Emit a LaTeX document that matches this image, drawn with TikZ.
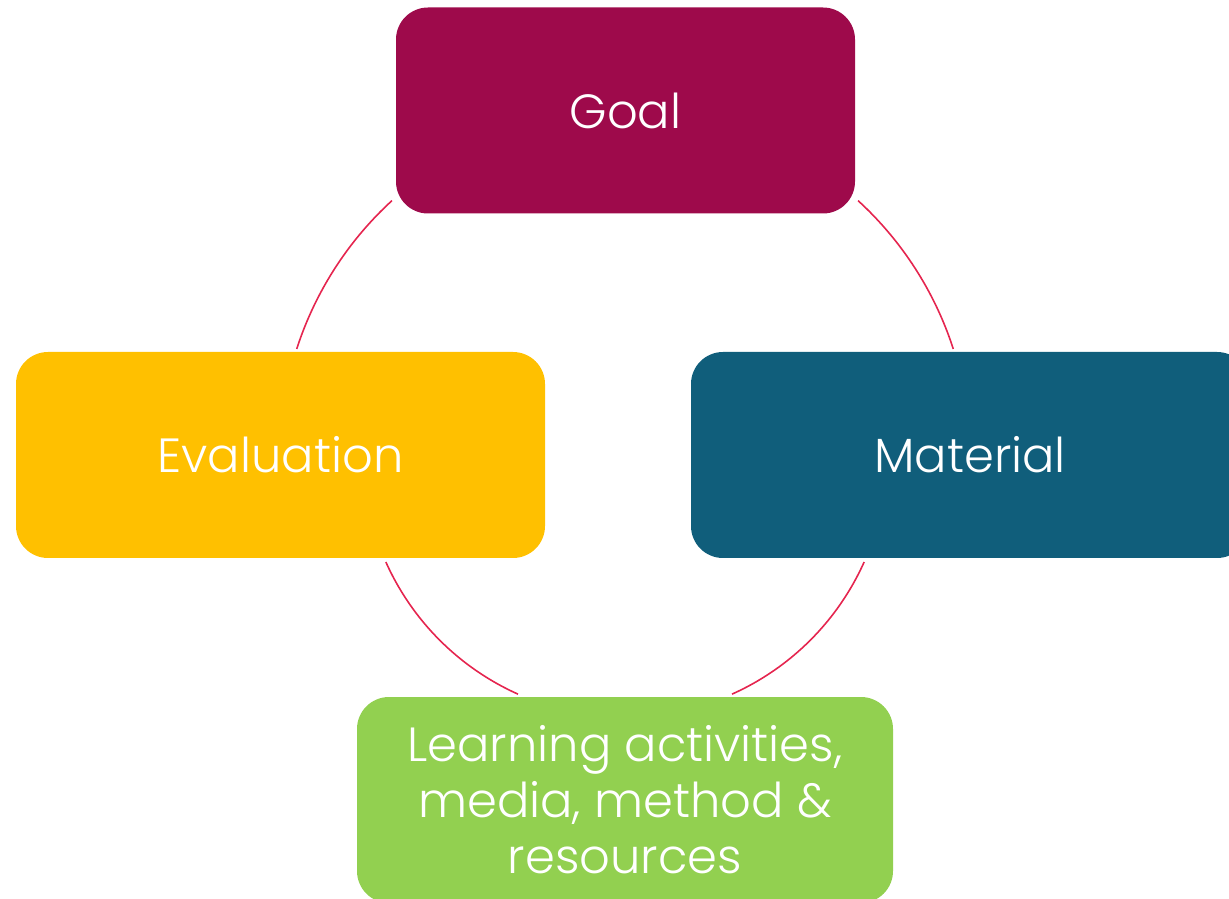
\documentclass[tikz,border=0pt]{standalone}
\usepackage{fontspec}
\setmainfont{Poppins}[UprightFont={* Light}]

\definecolor{goalcol}{HTML}{9E0A4B}
\definecolor{evalcol}{HTML}{FFC000}
\definecolor{matcol}{HTML}{105E7B}
\definecolor{learncol}{HTML}{92D050}
\definecolor{cyccol}{HTML}{E5254F}

\tikzset{
  stage/.style={rounded corners=32pt, text=white, inner sep=0pt,
    minimum height=206pt, align=center,
    font=\fontsize{48}{56}\selectfont},
  cycarc/.style={draw=cyccol, line width=1.6pt},
}

\begin{document}
\begin{tikzpicture}[x=1pt,y=1pt]
\useasboundingbox (0,0) rectangle (1229,898);
\coordinate (c) at (625,443);

\node[stage, fill=goalcol, minimum width=459pt] (goal) at (625.5,787.5) {Goal};
\node[stage, fill=evalcol, minimum width=529pt] (eval) at (280.5,443) {Evaluation};
\node[stage, fill=matcol, minimum width=558pt] (material) at (970,443) {Material};
\node[stage, fill=learncol, minimum width=536pt] (learning) at (625,98)
  {Learning activities,\\ media, method \&\\ resources};

% cycle arcs
\draw[cycarc] ([shift={(47.5:345)}]c) arc[start angle=47.5, end angle=17.9, radius=345];
\draw[cycarc] ([shift={(-24.1:262)}]c) arc[start angle=-24.1, end angle=-65.9, radius=262];
\draw[cycarc] ([shift={(-114.1:262)}]c) arc[start angle=-114.1, end angle=-155.9, radius=262];
\draw[cycarc] ([shift={(162.1:345)}]c) arc[start angle=162.1, end angle=132.5, radius=345];
\end{tikzpicture}
\end{document}
